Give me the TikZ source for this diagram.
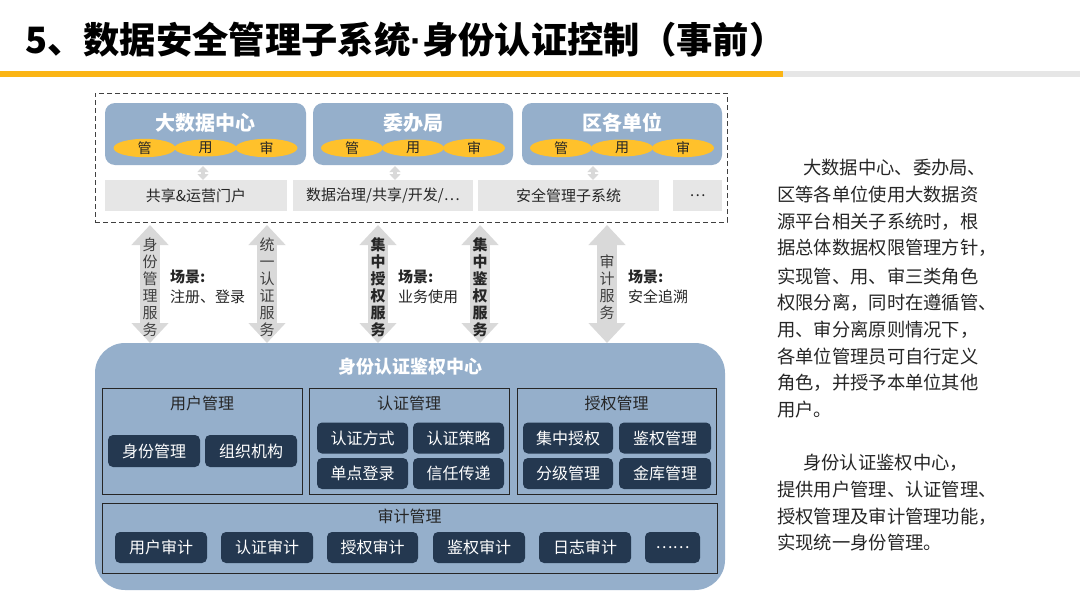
\documentclass[tikz,border=0pt]{standalone}
\usepackage{fontspec}
\setmainfont{Noto Sans CJK SC}
\newfontfamily\latinf{Liberation Sans}
\usetikzlibrary{shapes.geometric,arrows.meta}
\definecolor{tblue}{HTML}{95AFCB}
\definecolor{tyel}{HTML}{FFC12B}
\definecolor{tnavy}{HTML}{243850}
\definecolor{tgray}{HTML}{E6E6E6}
\definecolor{tarr}{HTML}{D9D9D9}
\definecolor{tbar}{HTML}{FBB515}
\definecolor{ttext}{HTML}{262626}
\definecolor{tdash}{HTML}{404040}
\begin{document}
\begin{tikzpicture}[x=1pt,y=-1pt,
  topbox/.style={rectangle, rounded corners=10pt, fill=tblue, minimum height=62pt, inner sep=0pt},
  boxtitle/.style={text=white, font=\fontsize{20}{20}\selectfont\bfseries, inner sep=0pt},
  ell/.style={ellipse, fill=tyel, minimum width=62pt, minimum height=17pt, inner sep=0pt, text=ttext, font=\fontsize{14}{14}\selectfont},
  sysbar/.style={rectangle, fill=tgray, minimum height=31pt, inner sep=0pt, text=ttext, font=\fontsize{15}{15}\selectfont},
  bigarrow/.style={line width=20pt, draw=tarr, {Triangle[width=36pt,length=20pt]}-{Triangle[width=36pt,length=20pt]}},
  smallarrow/.style={line width=4pt, draw=tarr, {Triangle[width=11pt,length=6pt]}-{Triangle[width=11pt,length=6pt]}},
  vtext/.style={align=center, text=tdash, inner sep=0pt, font=\fontsize{15}{17}\selectfont},
  scene/.style={anchor=west, text=ttext, inner sep=0pt, font=\fontsize{15}{15}\selectfont},
  section/.style={rectangle, draw=black!85, line width=1pt, minimum height=106pt, inner sep=0pt},
  sectitle/.style={text=ttext, inner sep=0pt, font=\fontsize{16}{16}\selectfont},
  btn/.style={rectangle, rounded corners=5pt, fill=tnavy, text=white, minimum width=91pt, minimum height=31pt, inner sep=0pt, font=\fontsize{16}{16}\selectfont},
  para/.style={anchor=west, text=ttext, inner sep=0pt, font=\fontsize{18.3}{18.3}\selectfont}
]
\useasboundingbox (0,0) rectangle (1080,608);
\fill[white] (0,0) rectangle (1080,608);

% title
\node[anchor=west, inner sep=0pt, font=\fontsize{36.3}{36.3}\selectfont\bfseries] (title) at (25,40) {5、数据安全管理子系统{\latinf\bfseries ·}身份认证控制（事前）};
\fill[tbar] (0,71) rectangle (783,77);
\fill[tgray] (783,71) rectangle (1080,77);

% dashed frame
\node[draw=tdash, dash pattern=on 5pt off 3pt, line width=1pt, rectangle, minimum width=632pt, minimum height=129pt, inner sep=0pt] (frame) at (411,157.5) {};

% top units
\node[topbox, minimum width=201pt] (u1) at (205.5,134) {};
\node[topbox, minimum width=200pt] (u2) at (413,134) {};
\node[topbox, minimum width=200pt] (u3) at (622,134) {};
\node[boxtitle] (u1t) at (205.5,123) {大数据中心};
\node[boxtitle] (u2t) at (413,123) {委办局};
\node[boxtitle] (u3t) at (622,123) {区各单位};
\foreach \c/\n in {205.5/a,413/b,622/c}{
  \node[ell] (\n g) at (\c-61,148) {管};
  \node[ell] (\n y) at (\c,148) {用};
  \node[ell] (\n s) at (\c+61,148) {审};
}

% system bars
\node[sysbar, minimum width=182pt] (s1) at (196,195.5) {共享\&运营门户};
\node[sysbar, minimum width=180pt] (s2) at (383,195.5) {数据治理/共享/开发/…};
\node[sysbar, minimum width=181pt] (s3) at (568.5,195.5) {安全管理子系统};
\node[sysbar, minimum width=49pt] (s4) at (697.5,195.5) {…};

% small arrows
\coordinate (p1) at (203,166); \coordinate (q1) at (203,180);
\coordinate (p2) at (395,166); \coordinate (q2) at (395,180);
\coordinate (p3) at (593,166); \coordinate (q3) at (593,180);
\draw[smallarrow] (p1) -- (q1);
\draw[smallarrow] (p2) -- (q2);
\draw[smallarrow] (p3) -- (q3);

% big arrows
\foreach \x/\n in {150/1,267/2,378/3,480/4,607/5}{
  \coordinate (at\n) at (\x,225);
  \coordinate (ab\n) at (\x,343);
  \draw[bigarrow] (at\n) -- (ab\n);
}
\node[vtext] (v1) at (150,287) {身\\份\\管\\理\\服\\务};
\node[vtext] (v2) at (267,287) {统\\一\\认\\证\\服\\务};
\node[vtext, text=ttext, font=\fontsize{15}{17}\selectfont\bfseries] (v3) at (378,287) {集\\中\\授\\权\\服\\务};
\node[vtext, text=ttext, font=\fontsize{15}{17}\selectfont\bfseries] (v4) at (480,287) {集\\中\\鉴\\权\\服\\务};
\node[vtext] (v5) at (607,287) {审\\计\\服\\务};

\node[scene, font=\fontsize{15}{15}\selectfont\bfseries] (c1a) at (170,277) {场景:};
\node[scene] (c1b) at (170,297) {注册、登录};
\node[scene, font=\fontsize{15}{15}\selectfont\bfseries] (c2a) at (398,277) {场景:};
\node[scene] (c2b) at (398,297) {业务使用};
\node[scene, font=\fontsize{15}{15}\selectfont\bfseries] (c3a) at (628,277) {场景:};
\node[scene] (c3b) at (628,297) {安全追溯};

% central box
\node[rectangle, rounded corners=30pt, fill=tblue, minimum width=630pt, minimum height=247pt, inner sep=0pt] (center) at (410,466.5) {};
\node[text=white, inner sep=0pt, font=\fontsize{18}{18}\selectfont\bfseries] (ctitle) at (410,367) {身份认证鉴权中心};

\node[section, minimum width=200pt] (sec1) at (202,441) {};
\node[section, minimum width=200pt] (sec2) at (409,441) {};
\node[section, minimum width=199pt] (sec3) at (616.5,441) {};
\node[sectitle] (sec1t) at (202,403) {用户管理};
\node[sectitle] (sec2t) at (409,403) {认证管理};
\node[sectitle] (sec3t) at (616.5,403) {授权管理};

\node[btn, minimum width=92pt, minimum height=32pt] (b11) at (154,451) {身份管理};
\node[btn, minimum width=92pt, minimum height=32pt] (b12) at (251,451) {组织机构};

\node[btn] (b21) at (362.5,438) {认证方式};
\node[btn] (b22) at (458.5,438) {认证策略};
\node[btn] (b23) at (362.5,473.5) {单点登录};
\node[btn] (b24) at (458.5,473.5) {信任传递};

\node[btn, minimum width=90pt] (b31) at (568,438) {集中授权};
\node[btn, minimum width=92pt] (b32) at (665,438) {鉴权管理};
\node[btn, minimum width=90pt] (b33) at (568,473.5) {分级管理};
\node[btn, minimum width=92pt] (b34) at (665,473.5) {金库管理};

\node[section, minimum width=615pt, minimum height=70pt] (sec4) at (409.5,538) {};
\node[sectitle] (sec4t) at (409.5,516) {审计管理};
\node[btn, minimum width=92pt] (a1) at (161,547.5) {用户审计};
\node[btn, minimum width=92pt] (a2) at (267,547.5) {认证审计};
\node[btn, minimum width=91pt] (a3) at (372.5,547.5) {授权审计};
\node[btn, minimum width=92pt] (a4) at (479,547.5) {鉴权审计};
\node[btn, minimum width=92pt] (a5) at (585,547.5) {日志审计};
\node[btn, minimum width=55pt] (a6) at (672.5,547.5) {……};

% right text
\node[para] (r1) at (803,168) {大数据中心、委办局、};
\node[para] (r2) at (777,195) {区等各单位使用大数据资};
\node[para] (r3) at (777,222) {源平台相关子系统时，根};
\node[para] (r4) at (777,248) {据总体数据权限管理方针，};
\node[para] (r5) at (777,277) {实现管、用、审三类角色};
\node[para] (r6) at (777,303) {权限分离，同时在遵循管、};
\node[para] (r7) at (777,330) {用、审分离原则情况下，};
\node[para] (r8) at (777,357) {各单位管理员可自行定义};
\node[para] (r9) at (777,383) {角色，并授予本单位其他};
\node[para] (r10) at (777,410) {用户。};
\node[para] (r11) at (803,463) {身份认证鉴权中心，};
\node[para] (r12) at (777,490) {提供用户管理、认证管理、};
\node[para] (r13) at (777,517) {授权管理及审计管理功能，};
\node[para] (r14) at (777,543) {实现统一身份管理。};
\end{tikzpicture}
\end{document}
